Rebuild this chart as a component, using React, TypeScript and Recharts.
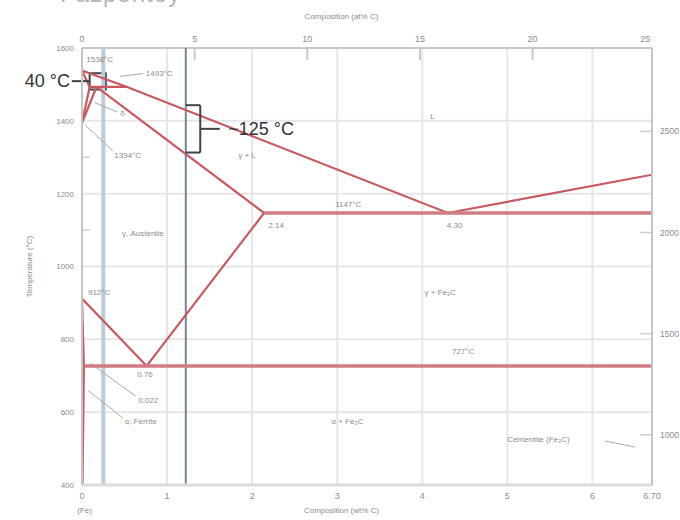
import React from "react";
import {
  ComposedChart,
  Line,
  XAxis,
  YAxis,
  CartesianGrid,
  ReferenceLine,
  ReferenceDot,
  ReferenceArea,
} from "recharts";

// Phase boundary segments (wt% C, °C)
const liquidus = [
  { c: 0, t: 1538 },
  { c: 0.53, t: 1493 },
  { c: 4.3, t: 1147 },
  { c: 6.7, t: 1252 },
];
const deltaSolidus = [
  { c: 0, t: 1538 },
  { c: 0.09, t: 1493 },
];
const deltaSolvus = [
  { c: 0, t: 1394 },
  { c: 0.09, t: 1493 },
];
const gammaDelta = [
  { c: 0, t: 1394 },
  { c: 0.17, t: 1493 },
];
const peritectic = [
  { c: 0.09, t: 1493 },
  { c: 0.53, t: 1493 },
];
const gammaSolidus = [
  { c: 0.17, t: 1493 },
  { c: 2.14, t: 1147 },
];
const eutectic = [
  { c: 2.14, t: 1147 },
  { c: 6.7, t: 1147 },
];
const acm = [
  { c: 2.14, t: 1147 },
  { c: 0.76, t: 727 },
];
const a3 = [
  { c: 0, t: 912 },
  { c: 0.76, t: 727 },
];
const ferriteA = [
  { c: 0, t: 912 },
  { c: 0.022, t: 727 },
];
const ferriteSolvus = [
  { c: 0.022, t: 727 },
  { c: 0.006, t: 400 },
];
const eutectoid = [
  { c: 0.022, t: 727 },
  { c: 6.7, t: 727 },
];
const phaseLines = [
  liquidus, deltaSolidus, deltaSolvus, gammaDelta, peritectic, gammaSolidus,
  acm, a3, ferriteA, ferriteSolvus,
];
const thickLines = [eutectic, eutectoid];

const wtTicks = [0, 1, 2, 3, 4, 5, 6, 6.7];
const atTicks = [0, 5, 10, 15, 20, 25];
const atMax = 25.3; // at% value at the right edge of the top scale (as drawn)
const wtMax = 6.7;
const tempTicks = [400, 600, 800, 1000, 1200, 1400, 1600];
const minorTemp = [1100, 1300];
const fTicks = [1000, 1500, 2000, 2500];

const steelLight = 0.25;
const steelDark = 1.22;

// Labels: [wt%, °C, text, anchor]
const labels: [number, number, string, string][] = [
  [0.05, 1567, "1538°C", "start"],
  [0.75, 1528, "1493°C", "start"],
  [0.45, 1419, "δ", "start"],
  [0.38, 1303, "1394°C", "start"],
  [4.12, 1410, "L", "middle"],
  [1.94, 1303, "γ + L", "middle"],
  [3.13, 1170, "1147°C", "middle"],
  [2.19, 1112, "2.14", "start"],
  [4.38, 1112, "4.30", "middle"],
  [0.47, 1090, "γ, Austenite", "start"],
  [4.21, 928, "γ + Fe₃C", "middle"],
  [0.07, 928, "912°C", "start"],
  [4.48, 765, "727°C", "middle"],
  [0.74, 701, "0.76", "middle"],
  [0.66, 632, "0.022", "start"],
  [0.5, 572, "α, Ferrite", "start"],
  [3.12, 572, "α + Fe₃C", "middle"],
  [5.0, 525, "Cementite (Fe₃C)", "start"],
];

const leaders: [number, number, number, number][] = [
  [0.45, 1522, 0.72, 1530],
  [0.15, 1450, 0.42, 1424],
  [0.04, 1388, 0.36, 1318],
  [0.1, 734, 0.63, 644],
  [0.07, 660, 0.48, 584],
  [6.15, 521, 6.5, 504],
];

const RED = "#c65a60";
const GRAY = "#8c8c8c";
const FONT = "'Liberation Sans', Arial, sans-serif";

const TextShape = (text: string, anchor: string, size = 8, fill = GRAY) => (props: any) => (
  <text
    x={props.cx}
    y={props.cy}
    textAnchor={anchor as any}
    dominantBaseline="middle"
    fontSize={size}
    fill={fill}
    fontFamily={FONT}
  >
    {text}
  </text>
);

const atToWt = (a: number) => (a * wtMax) / atMax;

export default function App() {
  return (
    <div style={{ position: "absolute", left: 0, top: 0, width: 680, height: 520, overflow: "hidden", background: "#fff" }}>
      <div
        style={{
          position: "absolute",
          left: 60,
          top: -20,
          fontSize: 24,
          color: "#b4b4b4",
          fontFamily: FONT,
          letterSpacing: 1,
        }}
      >
        Fázpontoy
      </div>
      <ComposedChart
        width={680}
        height={520}
        margin={{ top: 48, right: 0, bottom: 15, left: 0 }}
      >
        <CartesianGrid
          xAxisId="bottom"
          yAxisId="left"
          stroke="#e6e6e6"
          strokeWidth={2}
        />
        <XAxis
          xAxisId="bottom"
          dataKey="c"
          type="number"
          domain={[0, wtMax]}
          ticks={wtTicks}
          tickFormatter={(v: number) => (v === 6.7 ? "6.70" : String(v))}
          allowDataOverflow
          orientation="bottom"
          height={20}
          stroke="#dcdcdc"
          strokeWidth={3}
          tickLine={false}
          tick={{ fontSize: 9, fill: GRAY, fontFamily: FONT }}
        />
        <YAxis
          yAxisId="left"
          type="number"
          domain={[400, 1600]}
          ticks={tempTicks}
          allowDataOverflow
          width={82}
          stroke="#c4c4c4"
          strokeWidth={2}
          tickLine={false}
          tick={{ fontSize: 8, fill: GRAY, fontFamily: FONT }}
        />
        <YAxis
          yAxisId="right"
          orientation="right"
          type="number"
          domain={[752, 2912]}
          ticks={fTicks}
          allowDataOverflow
          width={28}
          stroke="#c4c4c4"
          strokeWidth={2}
          tickLine={false}
          tickMargin={2}
          tick={{ fontSize: 8.5, fill: GRAY, fontFamily: FONT }}
        />

        {/* top axis line */}
        <ReferenceLine xAxisId="bottom" yAxisId="left" y={1600} stroke="#c8c8c8" strokeWidth={2} />
        {/* top axis (at% C) ticks and labels */}
        {atTicks.slice(1, 5).map((v) => (
          <ReferenceLine
            key={"at" + v}
            xAxisId="bottom"
            yAxisId="left"
            segment={[{ x: atToWt(v), y: 1600 }, { x: atToWt(v), y: 1567 }]}
            stroke="#c8c8c8"
            strokeWidth={2}
          />
        ))}
        {atTicks.map((v) => (
          <ReferenceDot
            key={"atl" + v}
            xAxisId="bottom"
            yAxisId="left"
            x={atToWt(v)}
            y={1622}
            r={1}
            ifOverflow="visible"
            shape={TextShape(String(v), "middle", 9)}
          />
        ))}
        {/* left minor ticks */}
        {minorTemp.map((v) => (
          <ReferenceLine
            key={"mt" + v}
            xAxisId="bottom"
            yAxisId="left"
            segment={[{ x: 0, y: v }, { x: 0.09, y: v }]}
            stroke="#d0d0d0"
            strokeWidth={1.5}
          />
        ))}
        {/* right inner ticks */}
        {fTicks.map((v) => (
          <ReferenceLine
            key={"ft" + v}
            xAxisId="bottom"
            yAxisId="right"
            segment={[{ x: 6.56, y: v }, { x: 6.7, y: v }]}
            stroke="#d0d0d0"
            strokeWidth={1.5}
          />
        ))}

        {/* steel composition markers */}
        <ReferenceLine
          xAxisId="bottom"
          yAxisId="left"
          x={steelLight}
          stroke="#bccbd6"
          strokeWidth={4}
        />
        <ReferenceLine
          xAxisId="bottom"
          yAxisId="left"
          x={steelDark}
          stroke="#70889a"
          strokeWidth={2}
        />

        {/* leaders */}
        {leaders.map((l, i) => (
          <ReferenceLine
            key={"ld" + i}
            xAxisId="bottom"
            yAxisId="left"
            segment={[{ x: l[0], y: l[1] }, { x: l[2], y: l[3] }]}
            stroke="#a8a8a8"
            strokeWidth={1}
          />
        ))}

        {/* phase boundaries */}
        {phaseLines.map((d, i) => (
          <Line
            key={"pl" + i}
            xAxisId="bottom"
            yAxisId="left"
            data={d}
            dataKey="t"
            stroke={RED}
            strokeWidth={2.2}
            dot={false}
            activeDot={false}
            isAnimationActive={false}
          />
        ))}
        {thickLines.map((d, i) => (
          <Line
            key={"tl" + i}
            xAxisId="bottom"
            yAxisId="left"
            data={d}
            dataKey="t"
            stroke="#d07d82"
            strokeWidth={3.5}
            dot={false}
            activeDot={false}
            isAnimationActive={false}
          />
        ))}

        {/* annotation brackets */}
        <ReferenceArea
          xAxisId="bottom"
          yAxisId="left"
          x1={0.09}
          x2={0.28}
          y1={1486}
          y2={1531}
          fill="none"
          stroke="#3c434a"
          strokeWidth={2}
          ifOverflow="visible"
        />
        <ReferenceLine
          xAxisId="bottom"
          yAxisId="left"
          segment={[{ x: -0.12, y: 1509 }, { x: 0.09, y: 1509 }]}
          stroke="#3c434a"
          strokeWidth={2}
          ifOverflow="visible"
        />
        <ReferenceLine
          xAxisId="bottom"
          yAxisId="left"
          segment={[{ x: steelDark, y: 1443 }, { x: 1.39, y: 1443 }]}
          stroke="#3c434a"
          strokeWidth={2}
        />
        <ReferenceLine
          xAxisId="bottom"
          yAxisId="left"
          segment={[{ x: 1.39, y: 1443 }, { x: 1.39, y: 1313 }]}
          stroke="#3c434a"
          strokeWidth={2}
        />
        <ReferenceLine
          xAxisId="bottom"
          yAxisId="left"
          segment={[{ x: steelDark, y: 1313 }, { x: 1.39, y: 1313 }]}
          stroke="#3c434a"
          strokeWidth={2}
        />
        <ReferenceLine
          xAxisId="bottom"
          yAxisId="left"
          segment={[{ x: 1.39, y: 1378 }, { x: 1.62, y: 1378 }]}
          stroke="#3c434a"
          strokeWidth={2}
        />

        {/* text labels */}
        {labels.map((l, i) => (
          <ReferenceDot
            key={"lb" + i}
            xAxisId="bottom"
            yAxisId="left"
            x={l[0]}
            y={l[1]}
            r={1}
            ifOverflow="visible"
            shape={TextShape(l[2], l[3])}
          />
        ))}
        <ReferenceDot
          xAxisId="bottom"
          yAxisId="left"
          x={-0.14}
          y={1506}
          r={1}
          ifOverflow="visible"
          shape={TextShape("40 °C", "end", 18, "#333")}
        />
        <ReferenceDot
          xAxisId="bottom"
          yAxisId="left"
          x={1.72}
          y={1373}
          r={1}
          ifOverflow="visible"
          shape={TextShape("~125 °C", "start", 18, "#333")}
        />
        {/* axis titles */}
        <ReferenceDot
          xAxisId="bottom"
          yAxisId="left"
          x={3.05}
          y={1685}
          r={1}
          ifOverflow="visible"
          shape={TextShape("Composition (at% C)", "middle", 8)}
        />
        <ReferenceDot
          xAxisId="bottom"
          yAxisId="left"
          x={3.05}
          y={330}
          r={1}
          ifOverflow="visible"
          shape={TextShape("Composition (wt% C)", "middle", 8)}
        />
        <ReferenceDot
          xAxisId="bottom"
          yAxisId="left"
          x={0.03}
          y={330}
          r={1}
          ifOverflow="visible"
          shape={TextShape("(Fe)", "middle", 8)}
        />
        <ReferenceDot
          xAxisId="bottom"
          yAxisId="left"
          x={-0.61}
          y={1000}
          r={1}
          ifOverflow="visible"
          shape={(p: any) => (
            <text
              x={p.cx}
              y={p.cy}
              transform={`rotate(-90 ${p.cx} ${p.cy})`}
              textAnchor="middle"
              dominantBaseline="middle"
              fontSize={8}
              fill={GRAY}
              fontFamily={FONT}
            >
              Temperature (°C)
            </text>
          )}
        />
      </ComposedChart>
    </div>
  );
}
